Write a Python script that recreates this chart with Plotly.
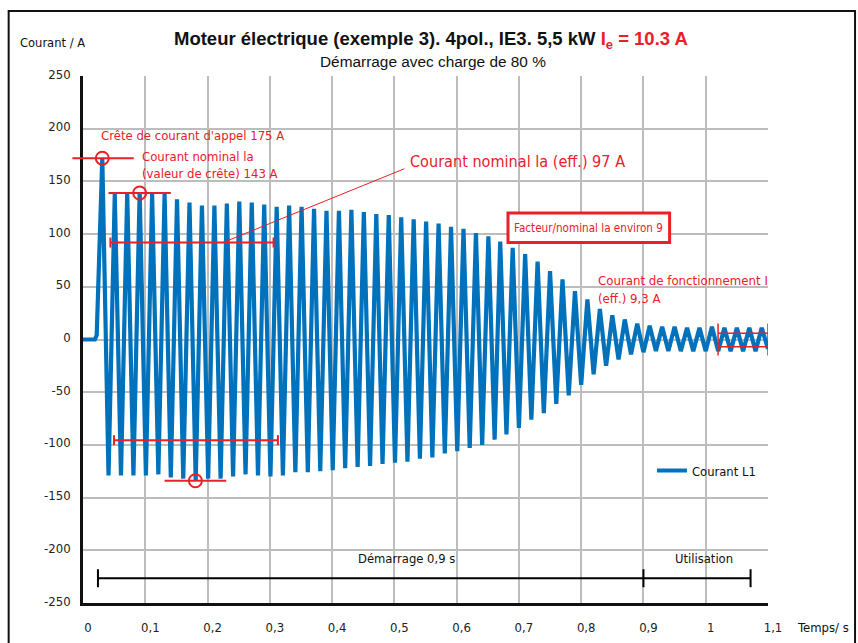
import plotly.graph_objects as go

# ---------------- data ----------------
time_s = [0.000, 0.019, 0.022, 0.031, 0.041, 0.051, 0.061, 0.071, 0.081, 0.091,
          0.101, 0.111, 0.121, 0.131, 0.141, 0.151, 0.161, 0.171, 0.181, 0.191,
          0.201, 0.211, 0.221, 0.231, 0.241, 0.251, 0.261, 0.271, 0.281, 0.291,
          0.301, 0.311, 0.321, 0.331, 0.341, 0.351, 0.361, 0.371, 0.381, 0.391,
          0.401, 0.411, 0.421, 0.431, 0.441, 0.451, 0.461, 0.471, 0.481, 0.491,
          0.501, 0.511, 0.521, 0.531, 0.541, 0.551, 0.561, 0.571, 0.581, 0.591,
          0.601, 0.611, 0.621, 0.631, 0.641, 0.651, 0.661, 0.670, 0.680, 0.690,
          0.700, 0.710, 0.720, 0.730, 0.740, 0.750, 0.760, 0.770, 0.780, 0.790,
          0.800, 0.810, 0.820, 0.830, 0.840, 0.850, 0.860, 0.870, 0.880, 0.890,
          0.900, 0.910, 0.920, 0.930, 0.940, 0.950, 0.960, 0.970, 0.980, 0.990,
          1.000, 1.010, 1.020, 1.030, 1.040, 1.050, 1.060, 1.070, 1.080, 1.090,
          1.100]
courant_l1 = [0, 0, 4, 172, -129, 138, -129, 139, -129, 140,
              -129, 138, -128, 138, -131, 133, -132, 130, -134, 127,
              -132, 127, -132, 129, -130, 131, -128, 130, -129, 128,
              -130, 126, -129, 127, -126, 126, -126, 124, -125, 122,
              -124, 122, -122, 123, -121, 121, -120, 119, -118, 118,
              -117, 116, -116, 114, -113, 112, -112, 110, -108, 107,
              -106, 105, -103, 101, -100, 98, -95, 93, -90, 87,
              -84, 81, -76, 74, -70, 65, -61, 57, -53, 46,
              -43, 38, -33, 29, -25, 23, -19, 19, -14, 15,
              -12, 13, -11, 12, -11, 12, -11, 11, -11, 11,
              -11, 12, -11, 11, -11, 11, -11, 11, -11, 11,
              -9]

x_tick_vals = [0, 0.1, 0.2, 0.3, 0.4, 0.5, 0.6, 0.7, 0.8, 0.9, 1.0, 1.1]
x_tick_text = ["0", "0,1", "0,2", "0,3", "0,4", "0,5", "0,6", "0,7", "0,8", "0,9", "1", "1,1"]
y_tick_vals = [-250, -200, -150, -100, -50, 0, 50, 100, 150, 200, 250]
y_tick_text = ["-250", "-200", "-150", "-100", "-50", "0", "50", "100", "150", "200", "250"]

# annotation values
crete_appel = 172
crete_nominal = 139
eff_nominal = 92
crete_neg = -134
eff_neg = -95.5
phase_y = -226.5
t_start, t_demarrage_end, t_util_end = 0.024, 0.9, 1.072

BLUE = "#0072bc"
RED = "#e8202a"
NARROW = "DejaVu Sans Condensed, Liberation Sans Narrow, Arial Narrow, sans-serif"
SANS = "Liberation Sans, Arial, Helvetica, sans-serif"

# plot area geometry (pixels) for placing free text
L, R, T, B = 83.3, 768.0, 76.0, 603.5


def ppx(px):
    return (px - L) / (R - L)


def ppy(py):
    return (B - py) / (B - T)


fig = go.Figure()
fig.add_trace(go.Scatter(
    x=time_s, y=courant_l1, mode="lines", name="Courant L1",
    line=dict(color=BLUE, width=4.2), showlegend=True,
))

shapes = []


def hline(x0, x1, y, color=RED, width=2, xref="x", yref="y"):
    shapes.append(dict(type="line", xref=xref, yref=yref, x0=x0, x1=x1, y0=y, y1=y,
                       line=dict(color=color, width=width)))


def vcap(x, y, half_px, color=RED, width=2):
    shapes.append(dict(type="line", xref="x", yref="y", ysizemode="pixel", yanchor=y,
                       x0=x, x1=x, y0=-half_px, y1=half_px,
                       line=dict(color=color, width=width)))


def circle(x, y, r=6.5):
    shapes.append(dict(type="circle", xref="x", yref="y", xsizemode="pixel", ysizemode="pixel",
                       xanchor=x, yanchor=y, x0=-r, x1=r, y0=-r, y1=r,
                       line=dict(color=RED, width=2)))


# inrush peak marker (line extends left of the axis -> paper coords)
shapes.append(dict(type="line", xref="paper", yref="y", x0=ppx(72.7), x1=ppx(134), y0=crete_appel, y1=crete_appel,
                   line=dict(color=RED, width=2)))
circle(0.031, crete_appel)
# nominal crest
hline(0.041, 0.141, crete_nominal)
circle(0.091, crete_nominal)
# rms bar (positive)
hline(0.044, 0.306, eff_nominal)
vcap(0.044, eff_nominal, 5)
vcap(0.306, eff_nominal, 5)
# leader line to text
shapes.append(dict(type="line", xref="x", yref="y", x0=0.2227, y0=91.5, x1=0.516, y1=162,
                   line=dict(color=RED, width=1)))
# rms bar (negative)
hline(0.0498, 0.313, eff_neg)
vcap(0.0498, eff_neg, 5)
vcap(0.313, eff_neg, 5)
# negative crest
hline(0.131, 0.230, crete_neg)
circle(0.1805, crete_neg)
# factor box
shapes.append(dict(type="rect", xref="x", yref="y", x0=0.6825, x1=0.942, y0=92, y1=120,
                   line=dict(color=RED, width=3), fillcolor="white", layer="above"))
# running current band
hline(1.0198, 1.1, 6.0, width=1.5)
hline(1.0198, 1.1, -6.8, width=1.5)
vcap(1.0198, 0, 16, width=1.5)
vcap(1.1, 0, 16, width=1.5)
# phase bars
hline(t_start, t_util_end, phase_y, color="black", width=2)
vcap(t_start, phase_y, 9, color="black", width=2)
vcap(t_demarrage_end, phase_y, 9, color="black", width=2)
vcap(t_util_end, phase_y, 9, color="black", width=2)
# outer frame
shapes.append(dict(type="rect", xref="paper", yref="paper", x0=ppx(9), x1=ppx(855), y0=ppy(680), y1=ppy(11),
                   line=dict(color="#111", width=2), fillcolor="rgba(0,0,0,0)"))

annotations = []


def text(x, y, s, size, color=RED, family=NARROW, xanchor="left", xref="x", yref="y"):
    annotations.append(dict(x=x, y=y, xref=xref, yref=yref, text=s, showarrow=False,
                            xanchor=xanchor, yanchor="middle",
                            font=dict(family=family, size=size, color=color)))


text(ppx(99), ppy(136), "Crête de courant d'appel 175 A", 13, xref="paper", yref="paper")
text(ppx(140), ppy(157), "Courant nominal la", 13, xref="paper", yref="paper")
text(ppx(140), ppy(174), "(valeur de crête) 143 A", 13, xref="paper", yref="paper")
text(ppx(408), ppy(162), "Courant nominal la (eff.) 97 A", 16.1, xref="paper", yref="paper")
text(0.812, 106, "Facteur/nominal la environ 9", 11.6, xanchor="center")
text(ppx(596), ppy(281), "Courant de fonctionnement I", 13.1, xref="paper", yref="paper")
text(ppx(596), ppy(299), "(eff.) 9,3 A", 13.1, xref="paper", yref="paper")
text(0.5187, -208, "Démarrage 0,9 s", 12.9, color="#111", xanchor="center")
text(0.998, -208, "Utilisation", 12.9, color="#111", xanchor="center")
text(ppx(18), ppy(42), "Courant / A", 12.8, color="#111", xref="paper", yref="paper")
text(ppx(795), ppy(628), "Temps/ s", 13, color="#111", xref="paper", yref="paper")
annotations.append(dict(
    x=ppx(431), y=ppy(40), xref="paper", yref="paper", showarrow=False, xanchor="center", yanchor="middle",
    text="<b>Moteur électrique (exemple 3). 4pol., IE3. 5,5 kW "
         f"<span style='color:{RED}'>I<sub>e</sub> = 10.3 A</span></b>",
    font=dict(family=SANS, size=18.5, color="#111")))
annotations.append(dict(
    x=ppx(433), y=ppy(61), xref="paper", yref="paper", showarrow=False, xanchor="center", yanchor="middle",
    text="Démarrage avec charge de 80 %", font=dict(family=SANS, size=15.4, color="#111")))

fig.update_layout(
    width=858, height=643,
    margin=dict(l=L, r=858 - R, t=T, b=643 - B, autoexpand=False),
    paper_bgcolor="white", plot_bgcolor="white",
    shapes=shapes, annotations=annotations,
    showlegend=True,
    legend=dict(x=ppx(652), y=ppy(471), xanchor="left", yanchor="middle",
                bgcolor="rgba(255,255,255,0)", font=dict(family=NARROW, size=12.9, color="#111"),
                itemwidth=30),
    xaxis=dict(range=[0, 1.1], tickvals=x_tick_vals, ticktext=x_tick_text,
               showgrid=True, gridcolor="#bdbdbd", gridwidth=1.5, zeroline=False,
               showline=True, linecolor="#111", linewidth=2.5, ticks="",
               tickfont=dict(family=NARROW, size=13, color="#222"), ticklabelstandoff=11,
               ticklabelshift=5, automargin=False, fixedrange=True),
    yaxis=dict(range=[-250, 250], tickvals=y_tick_vals, ticktext=y_tick_text,
               showgrid=True, gridcolor="#bdbdbd", gridwidth=1.5, zeroline=False,
               showline=True, linecolor="#111", linewidth=2.5, ticks="",
               tickfont=dict(family=NARROW, size=13, color="#222"), ticklabelstandoff=7,
               ticklabelshift=-2, automargin=False, fixedrange=True),
)

fig.write_html("out.html")
